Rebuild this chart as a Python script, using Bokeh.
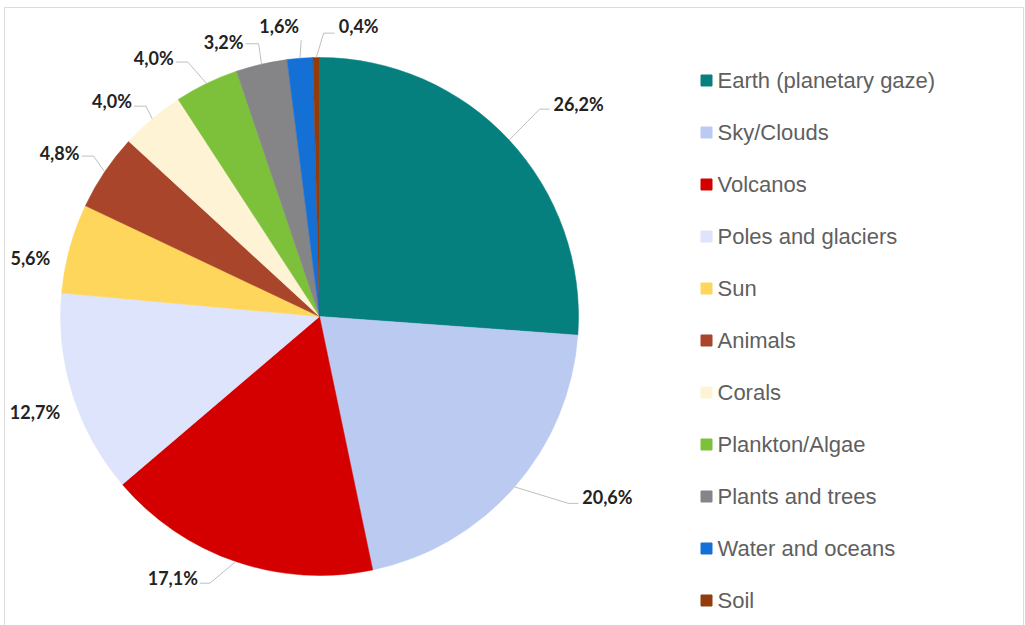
import math
from bokeh.plotting import figure
from bokeh.models import ColumnDataSource, Range1d
from bokeh.core.properties import value
from bokeh.embed import file_html
from bokeh.resources import INLINE

# ---------------- data ----------------
categories = ["Earth (planetary gaze)", "Sky/Clouds", "Volcanos", "Poles and glaciers",
              "Sun", "Animals", "Corals", "Plankton/Algae", "Plants and trees",
              "Water and oceans", "Soil"]
shares = [26.2, 20.6, 17.1, 12.7, 5.6, 4.8, 4.0, 4.0, 3.2, 1.6, 0.4]
labels = ["26,2%", "20,6%", "17,1%", "12,7%", "5,6%", "4,8%", "4,0%", "4,0%", "3,2%", "1,6%", "0,4%"]
colors = ["#06807F", "#BBCAF1", "#D40000", "#DEE4FB", "#FFD65C", "#A8452B",
          "#FFF3D6", "#7DC13B", "#858487", "#1570D6", "#923C0E"]

# ---------------- layout (not data) ----------------
W, H = 1025, 625
CX, CY = 319, H - 316     # pie centre
R = 259                   # pie radius
label_nudge = [3.6, -9.0, 10.4, -0.9, -3.8, -1.8, -3.7, -6.8, -6.3, -3.6, 8.4]   # degrees
label_radius = [335, 340, 300, 300, 295, 307, 299, 307, 291, 293, 293]
has_leader = [True, True, True, False, False, True, True, True, True, True, True]
elbow_len = [10, 10, 10, 0, 0, 12, 12, 12, 13, 0, 11]
drop = [5, 6, 5, 0, 0, 3, 5, 4, 2, 14, 7]

total = sum(shares)
starts, ends, mids = [], [], []
c = 0.0
for s in shares:
    a0 = c / total * 2 * math.pi
    a1 = (c + s) / total * 2 * math.pi
    starts.append(math.pi / 2 - a0)
    ends.append(math.pi / 2 - a1)
    mids.append((a0 + a1) / 2)
    c += s

src = ColumnDataSource(dict(cat=categories, start=starts, end=ends, color=colors))

p = figure(width=W, height=H, x_range=Range1d(0, W), y_range=Range1d(0, H),
           x_axis_type=None, y_axis_type=None, toolbar_location=None,
           output_backend="svg", min_border=0, outline_line_color=None,
           background_fill_color="white", border_fill_color="white")
p.grid.visible = False

# faint frame
p.quad(left=4, right=W - 2, top=H - 7, bottom=-5, fill_color=None,
       line_color="#DCDCDC", line_width=1)

p.wedge(x=CX, y=CY, radius=R, start_angle="start", end_angle="end",
        direction="clock", fill_color="color", line_color="color",
        line_width=0.5, source=src)

# data labels + leader lines
lx, ly, lines_x, lines_y = [], [], [], []
for i, lab in enumerate(labels):
    a = mids[i] + math.radians(label_nudge[i])
    tx = CX + label_radius[i] * math.sin(a)
    ty = CY + label_radius[i] * math.cos(a)
    lx.append(tx)
    ly.append(ty)
    if has_leader[i]:
        half = len(lab) * 5
        ex = CX + R * math.sin(mids[i])
        ey = CY + R * math.cos(mids[i])
        if tx > CX:
            end_x = tx - half - 4
            elb_x = end_x - elbow_len[i]
        else:
            end_x = tx + half + 2
            elb_x = end_x + elbow_len[i]
        yy = ty - drop[i]
        lines_x.append([ex, elb_x, end_x])
        lines_y.append([ey, yy, yy])

p.multi_line(xs=lines_x, ys=lines_y, line_color="#BFBFBF", line_width=1)
p.text(x=lx, y=ly, text=labels, text_font=value("Lato"), text_font_style="bold",
       text_font_size="18px", text_color="#222222", text_align="center",
       text_baseline="middle")

# legend
leg_top = H - 80
leg_step = 52
leg_y = [leg_top - i * leg_step for i in range(len(categories))]
p.scatter(x=[706] * len(categories), y=leg_y, marker="square", size=11,
          fill_color=colors, line_color=colors)
p.text(x=[717] * len(categories), y=leg_y, text=categories,
       text_font=value("Liberation Sans"), text_font_size="22px",
       text_color="#5F5F5F", text_align="left", text_baseline="middle")

open("out.html", "w").write(file_html(p, INLINE))
